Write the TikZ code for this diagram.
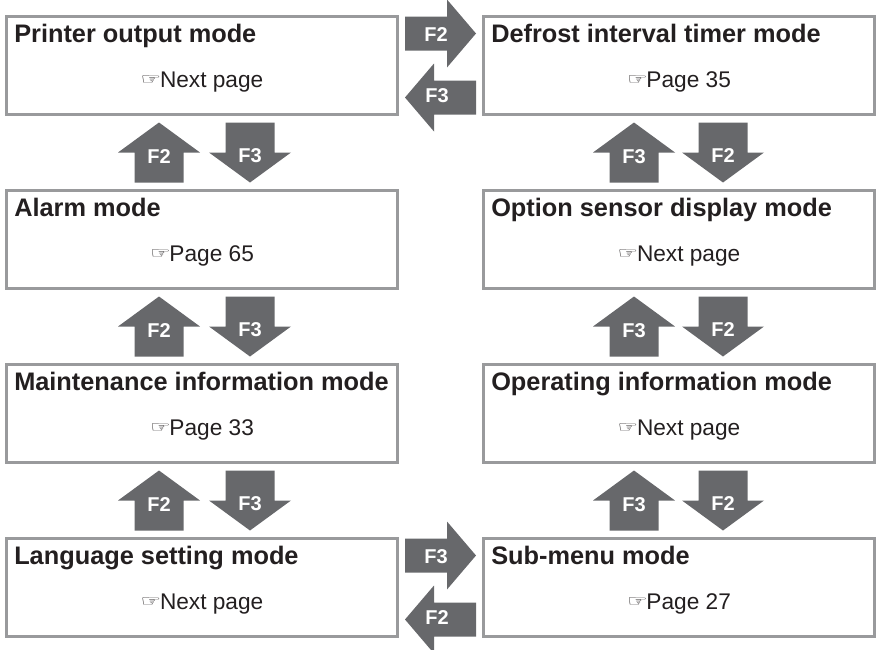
\documentclass[tikz,border=0pt]{standalone}
\usepackage{fontspec}
\setmainfont{Liberation Sans}
\newfontfamily\symfont{DejaVu Sans}
\definecolor{boxGray}{HTML}{999A9C}
\definecolor{arrGray}{HTML}{67686B}
\definecolor{inkBlack}{HTML}{231F20}
\newcommand{\hand}{\raisebox{2.2pt}{\resizebox{15.5pt}{6.6pt}{\symfont ☞}}\hspace{-1pt}}

\begin{document}
\begin{tikzpicture}[x=0.75pt, y=-0.75pt,
  modebox/.style={draw=boxGray, line width=2.25pt, minimum width=293.25pt,
                  minimum height=73.5pt, inner sep=0pt},
  mtitle/.style={anchor=base west, inner sep=0pt, text=inkBlack,
                 font=\fontsize{19}{22}\selectfont\bfseries},
  mref/.style={anchor=base, inner sep=0pt, text=inkBlack,
               font=\fontsize{17}{20}\selectfont},
  farr/.style={fill=arrGray},
  flab/.style={text=white, inner sep=0pt, font=\fontsize{15}{17}\selectfont\bfseries}
]
\useasboundingbox (0,0) rectangle (876,650);
% mode boxes
\node[modebox] (printer) at (202,   65.5) {};
\node[modebox] (alarm)   at (202,  239.5) {};
\node[modebox] (maint)   at (202,  413.5) {};
\node[modebox] (lang)    at (202,  587.5) {};
\node[modebox] (defrost) at (679,   65.5) {};
\node[modebox] (option)  at (679,  239.5) {};
\node[modebox] (operate) at (679,  413.5) {};
\node[modebox] (submenu) at (679,  587.5) {};
% titles and page references
\node[mtitle] (printerT) at (14,   42.5) {Printer output mode};
\node[mref]   (printerR) at (202,  87.5) {\hand Next page};
\node[mtitle] (alarmT)   at (14,  216.5) {Alarm mode};
\node[mref]   (alarmR)   at (202, 261.5) {\hand Page 65};
\node[mtitle] (maintT)   at (14,  390.5) {Maintenance information mode};
\node[mref]   (maintR)   at (202, 435.5) {\hand Page 33};
\node[mtitle] (langT)    at (14,  564.5) {Language setting mode};
\node[mref]   (langR)    at (202, 609.5) {\hand Next page};
\node[mtitle] (defrostT) at (491,  42.5) {Defrost interval timer mode};
\node[mref]   (defrostR) at (679,  87.5) {\hand Page 35};
\node[mtitle] (optionT)  at (491, 216.5) {Option sensor display mode};
\node[mref]   (optionR)  at (679, 261.5) {\hand Next page};
\node[mtitle] (operateT) at (491, 390.5) {Operating information mode};
\node[mref]   (operateR) at (679, 435.5) {\hand Next page};
\node[mtitle] (submenuT) at (491, 564.5) {Sub-menu mode};
\node[mref]   (submenuR) at (679, 609.5) {\hand Page 27};
% vertical key arrows, left column
\fill[farr, shift={(159,152.5)}] (0,-30) -- (41,0) -- (24.5,0) -- (24.5,30) -- (-24.5,30) -- (-24.5,0) -- (-41,0) -- cycle;
\fill[farr, shift={(250,152.5)}] (0,30) -- (41,0) -- (24.5,0) -- (24.5,-30) -- (-24.5,-30) -- (-24.5,0) -- (-41,0) -- cycle;
\fill[farr, shift={(159,326.5)}] (0,-30) -- (41,0) -- (24.5,0) -- (24.5,30) -- (-24.5,30) -- (-24.5,0) -- (-41,0) -- cycle;
\fill[farr, shift={(250,326.5)}] (0,30) -- (41,0) -- (24.5,0) -- (24.5,-30) -- (-24.5,-30) -- (-24.5,0) -- (-41,0) -- cycle;
\fill[farr, shift={(159,500.5)}] (0,-30) -- (41,0) -- (24.5,0) -- (24.5,30) -- (-24.5,30) -- (-24.5,0) -- (-41,0) -- cycle;
\fill[farr, shift={(250,500.5)}] (0,30) -- (41,0) -- (24.5,0) -- (24.5,-30) -- (-24.5,-30) -- (-24.5,0) -- (-41,0) -- cycle;
\node[flab] (lu1) at (159,157) {F2};
\node[flab] (ld1) at (250,156) {F3};
\node[flab] (lu2) at (159,331) {F2};
\node[flab] (ld2) at (250,330) {F3};
\node[flab] (lu3) at (159,505) {F2};
\node[flab] (ld3) at (250,504) {F3};
% vertical key arrows, right column
\fill[farr, shift={(634,152.5)}] (0,-30) -- (41,0) -- (24.5,0) -- (24.5,30) -- (-24.5,30) -- (-24.5,0) -- (-41,0) -- cycle;
\fill[farr, shift={(723,152.5)}] (0,30) -- (41,0) -- (24.5,0) -- (24.5,-30) -- (-24.5,-30) -- (-24.5,0) -- (-41,0) -- cycle;
\fill[farr, shift={(634,326.5)}] (0,-30) -- (41,0) -- (24.5,0) -- (24.5,30) -- (-24.5,30) -- (-24.5,0) -- (-41,0) -- cycle;
\fill[farr, shift={(723,326.5)}] (0,30) -- (41,0) -- (24.5,0) -- (24.5,-30) -- (-24.5,-30) -- (-24.5,0) -- (-41,0) -- cycle;
\fill[farr, shift={(634,500.5)}] (0,-30) -- (41,0) -- (24.5,0) -- (24.5,30) -- (-24.5,30) -- (-24.5,0) -- (-41,0) -- cycle;
\fill[farr, shift={(723,500.5)}] (0,30) -- (41,0) -- (24.5,0) -- (24.5,-30) -- (-24.5,-30) -- (-24.5,0) -- (-41,0) -- cycle;
\node[flab] (ru1) at (634,157) {F3};
\node[flab] (rd1) at (723,156) {F2};
\node[flab] (ru2) at (634,331) {F3};
\node[flab] (rd2) at (723,330) {F2};
\node[flab] (ru3) at (634,505) {F3};
\node[flab] (rd3) at (723,504) {F2};
% horizontal key arrows
\fill[farr, shift={(440.5,33.5)}]  (35.5,0) -- (6.5,-34) -- (6.5,-17) -- (-35.5,-17) -- (-35.5,17) -- (6.5,17) -- (6.5,34) -- cycle;
\fill[farr, shift={(440.5,97.5)}]  (-35.5,0) -- (-6.5,-34) -- (-6.5,-17) -- (35.5,-17) -- (35.5,17) -- (-6.5,17) -- (-6.5,34) -- cycle;
\fill[farr, shift={(440.5,555.5)}] (35.5,0) -- (6.5,-34) -- (6.5,-17) -- (-35.5,-17) -- (-35.5,17) -- (6.5,17) -- (6.5,34) -- cycle;
\fill[farr, shift={(440.5,619.5)}] (-35.5,0) -- (-6.5,-34) -- (-6.5,-17) -- (35.5,-17) -- (35.5,17) -- (-6.5,17) -- (-6.5,34) -- cycle;
\node[flab] (hr1) at (436,35)  {F2};
\node[flab] (hl1) at (437,96)  {F3};
\node[flab] (hr2) at (436,557) {F3};
\node[flab] (hl2) at (437,618) {F2};
\end{tikzpicture}
\end{document}
